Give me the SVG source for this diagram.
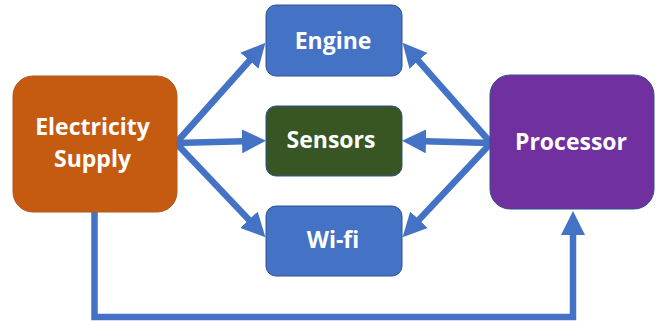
<svg xmlns="http://www.w3.org/2000/svg" width="657" height="321" viewBox="0 0 657 321">
<defs>
<marker id="ah" markerUnits="userSpaceOnUse" markerWidth="24" markerHeight="24" viewBox="0 0 24 24" refX="1" refY="12" orient="auto">
<path d="M0,0 L24,12 L0,24 z" fill="#4472C4"/>
</marker>
</defs>
<style>
.lbl{font-family:"Open Sans","Noto Sans","Liberation Sans",sans-serif;font-weight:bold;font-size:23px;fill:#ffffff;text-anchor:middle}
.blue{fill:#4472C4;stroke:#2F528F;stroke-width:1}
.conn{fill:none;stroke:#4472C4;stroke-width:6.5;marker-end:url(#ah)}
</style>
<g id="connectors">
<line class="conn" x1="176" y1="143" x2="250.1" y2="60"/>
<line class="conn" x1="176" y1="143" x2="243" y2="141.3"/>
<line class="conn" x1="176" y1="143" x2="249.6" y2="220.5"/>
<line class="conn" x1="491" y1="143" x2="417.8" y2="60.1"/>
<line class="conn" x1="491" y1="143" x2="425" y2="141.3"/>
<line class="conn" x1="491" y1="143" x2="418.3" y2="220.4"/>
<path class="conn" d="M94.5,212 V317 H573 V234"/>
</g>
<g id="electricity">
<rect x="13" y="76" width="164" height="136" rx="20" fill="#C55A11" stroke="#AE5A21" stroke-width="1"/>
<text class="lbl" x="92.5" y="135">Electricity</text>
<text class="lbl" x="92.5" y="167">Supply</text>
</g>
<g id="engine">
<rect class="blue" x="266" y="5" width="136" height="71" rx="10"/>
<text class="lbl" x="333" y="48.5">Engine</text>
</g>
<g id="sensors">
<rect x="266" y="106" width="136" height="70" rx="10" fill="#375623" stroke="#2F528F" stroke-width="1"/>
<text class="lbl" x="331" y="148">Sensors</text>
</g>
<g id="wifi">
<rect class="blue" x="266" y="206" width="136" height="70" rx="10"/>
<text class="lbl" x="333" y="248">Wi-fi</text>
</g>
<g id="processor">
<rect x="490" y="75" width="164" height="134" rx="20" fill="#7030A0" stroke="#2F528F" stroke-width="1"/>
<text class="lbl" x="571" y="149.5">Processor</text>
</g>
</svg>
